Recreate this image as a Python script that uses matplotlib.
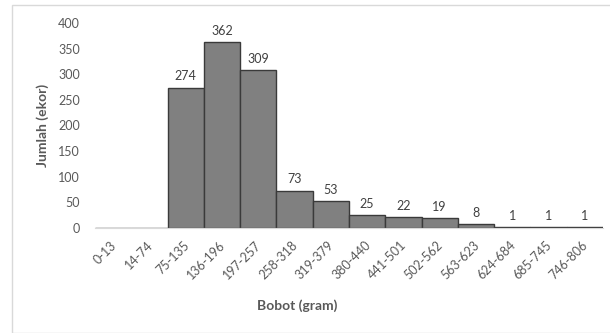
import matplotlib
matplotlib.use("Agg")
import matplotlib.pyplot as plt
import matplotlib.transforms as mtransforms
from matplotlib.patches import Rectangle

categories = ["0-13", "14-74", "75-135", "136-196", "197-257", "258-318", "319-379",
              "380-440", "441-501", "502-562", "563-623", "624-684", "685-745", "746-806"]
counts = [0, 0, 274, 362, 309, 73, 53, 25, 22, 19, 8, 1, 1, 1]
y_ticks = [0, 50, 100, 150, 200, 250, 300, 350, 400]

plt.rcParams['font.family'] = ['Lato', 'DejaVu Sans']
text_color = "#595959"

W, H = 610, 333
fig = plt.figure(figsize=(W / 100, H / 100), dpi=100)
fig.patches.append(Rectangle((12 / W, 0), 1.2, 1 - 5 / H, transform=fig.transFigure,
                             fill=False, edgecolor="#d9d9d9", linewidth=1.0))

ax = fig.add_axes([95 / W, 1 - 228 / H, (603 - 95) / W, (228 - 23) / H])
x = list(range(len(categories)))
ax.bar(x, counts, width=1.0, color="#808080", edgecolor="#3a3a3a", linewidth=1.0)
for xi, v in zip(x, counts):
    if v > 0:
        ax.text(xi, v + 10, str(v), ha="center", va="bottom", fontsize=9, color="#404040")

ax.set_xlim(-0.5, len(categories) - 0.5)
ax.set_ylim(0, 400)
ax.set_yticks(y_ticks)
ax.set_xticks(x)
ax.set_xticklabels(categories, rotation=45, ha="right", rotation_mode="anchor")
ax.tick_params(axis="both", length=0, labelsize=9, labelcolor=text_color)
ax.tick_params(axis="y", pad=11)
ax.tick_params(axis="x", pad=8)
for side in ["top", "right", "left"]:
    ax.spines[side].set_visible(False)
ax.spines["bottom"].set_color("#d9d9d9")

# nudge rotated category labels slightly left of the bin centres
offset = mtransforms.ScaledTranslation(-3 / 100, 0, fig.dpi_scale_trans)
for label in ax.get_xticklabels():
    label.set_transform(label.get_transform() + offset)

fig.text(43 / W, 1 - 125 / H, "Jumlah (ekor)", rotation=90, ha="center", va="center",
         fontsize=10, fontweight="bold", color=text_color)
fig.text(297 / W, 1 - 306 / H, "Bobot (gram)", ha="center", va="center",
         fontsize=10, fontweight="bold", color=text_color)

fig.savefig("out.png", dpi=100, facecolor="white")
